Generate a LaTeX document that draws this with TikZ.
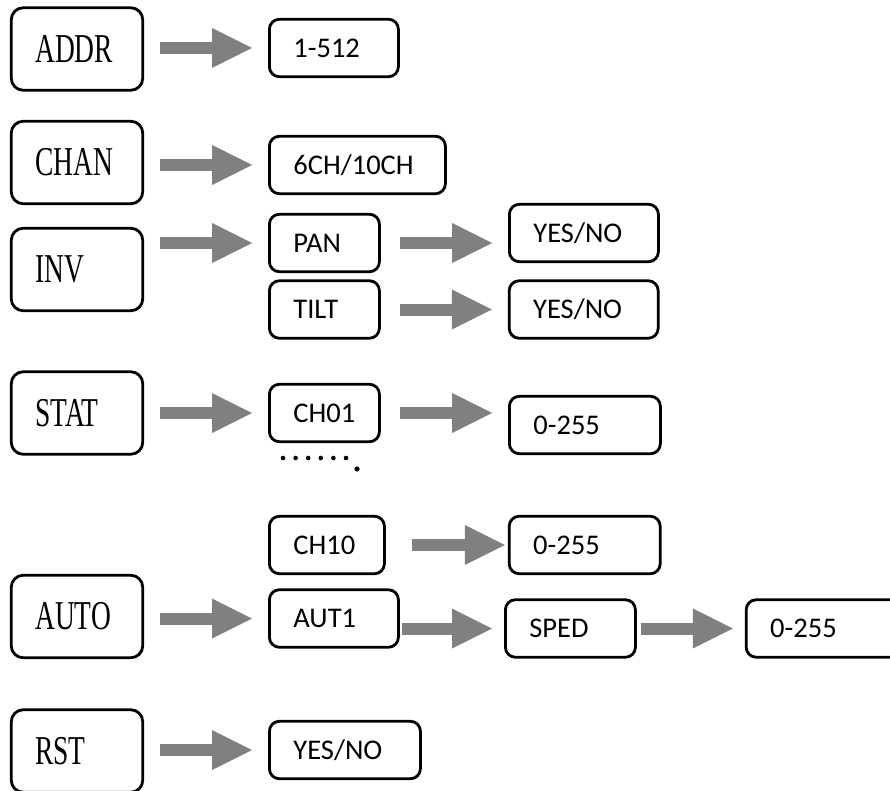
\documentclass[tikz,border=0pt]{standalone}
\usepackage{fontspec}
\setmainfont{Carlito}
\newfontfamily\menufont{Liberation Serif}
\usepackage{graphicx}
\usetikzlibrary{arrows.meta}
\usetikzlibrary{positioning}
\definecolor{arrowgray}{RGB}{128,128,128}
\newcommand{\menutext}[1]{\scalebox{0.67}[1]{#1}}
\tikzset{menu node/.style={draw,line width=2.8pt,rounded corners=12pt,minimum width=131.5pt,minimum height=82.5pt,text width=83.5pt,inner xsep=24pt,inner ysep=0pt,align=left,font=\menufont\fontsize{41}{41}\selectfont},}
\tikzset{value node/.style={draw,line width=2.8pt,rounded corners=10pt,minimum height=57.5pt,text width=#1,inner xsep=24pt,inner ysep=0pt,align=left,anchor=west,font=\fontsize{28.5}{28.5}\selectfont},}
\tikzset{block arrow/.style={color=arrowgray,line width=12pt,-{Triangle[length=40pt,width=40pt,line width=0pt]},shorten <=16pt,shorten >=16pt},}

\begin{document}
\begin{tikzpicture}[x=1pt,y=-1pt]
     \useasboundingbox (0,0) rectangle (890,791);
     % menu items
     \node[menu node] (addr) at (77,49)    {\menutext{ADDR}};
     \node[menu node] (chan) at (77,162.5) {\menutext{CHAN}};
     \node[menu node] (inv)  at (77,269.5) {\menutext{INV}};
     \node[menu node] (stat) at (77,413)   {\menutext{STAT}};
     \node[menu node] (auto) at (77,616.5) {\menutext{AUTO}};
     \node[menu node] (rst)  at (77,751)   {\menutext{RST}};

     % second column
     \node[value node=81pt]  (addrv) at (268,48)    {1-512};
     \node[value node=128pt] (chanv) at (268,165)   {6CH/10CH};
     \node[value node=62pt]  (pan)   at (268,243)   {PAN};
     \node[value node=62pt]  (tilt)  at (268,309.5) {TILT};
     \node[value node=62pt]  (ch01)  at (268,413)   {CH01};
     \node[value node=67pt]  (ch10)  at (268,545)   {CH10};
     \node[value node=81pt]  (aut1)  at (268,618.5) {AUT1};
     \node[value node=103pt] (rstv)  at (268,750)   {YES/NO};

     % third column
     \node[value node=101pt] (panv)  at (508,233)   {YES/NO};
     \node[value node=101pt] (tiltv) [right=127pt of tilt] {YES/NO};
     \node[value node=103pt] (ch01v) at (508,425)   {0-255};
     \node[value node=103pt] (ch10v) [right=122pt of ch10] {0-255};
     \node[value node=82pt]  (sped)  at (504,628.5) {SPED};
     \node[value node=140pt] (spedv) [right=108pt of sped] {0-255};

     \foreach \i in {0,...,5}
        \fill (283+12.6*\i,458) circle (2.3pt);
     \fill (357,469) circle (2.6pt);

     \path[block arrow]
     (addr.east |- addrv.west) edge (addrv.west)
     (chan.east |- chanv.west) edge (chanv.west)
     (inv.east |- pan.west) edge (pan.west)
     (stat.east |- ch01.west) edge (ch01.west)
     (auto.east |- aut1.west) edge (aut1.west)
     (rst.east |- rstv.west) edge (rstv.west);
     \path[block arrow, shorten <=19pt]
     (pan.east) edge (pan.east -| panv.west)
     (tilt.east) edge (tiltv.west)
     (ch01.east) edge (ch01.east -| ch01v.west);
     \path[block arrow, shorten <=26pt, shorten >=3pt]
     (ch10.east) edge (ch10v.west);
     \path[block arrow, shorten <=2pt, shorten >=12pt]
     (aut1.east |- sped.west) edge (sped.west);
     \path[block arrow, shorten <=4pt, shorten >=12pt]
     (sped.east) edge (spedv.west);
  \end{tikzpicture}
\end{document}
